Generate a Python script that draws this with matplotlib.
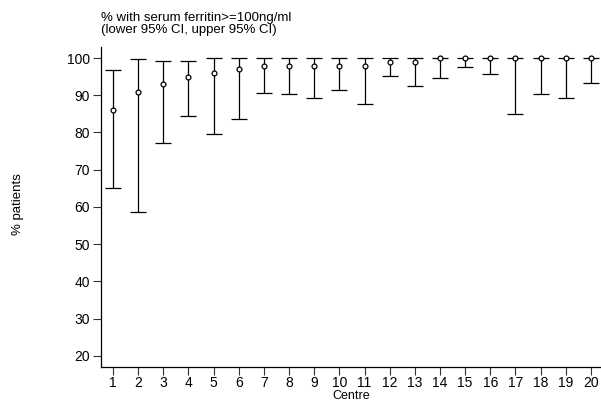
import matplotlib
matplotlib.use("Agg")
import matplotlib.pyplot as plt
import numpy as np

plt.rcParams['font.family'] = ['Liberation Sans', 'DejaVu Sans']

centres = list(range(1, 21))
pct = [86.0, 91.0, 93.0, 95.0, 96.0, 97.0, 98.0, 98.0, 98.0, 98.0,
       98.0, 99.0, 99.0, 100.0, 100.0, 100.0, 100.0, 100.0, 100.0, 100.0]
lower = [65.0, 58.7, 77.2, 84.4, 79.5, 83.7, 90.5, 90.4, 89.4, 91.4,
         87.7, 95.3, 92.5, 94.6, 97.7, 95.8, 85.1, 90.4, 89.3, 93.2]
upper = [96.9, 99.8, 99.2, 99.3, 100.0, 100.0, 100.0, 100.0, 100.0, 100.0,
         100.0, 100.0, 100.0, 100.0, 100.0, 100.0, 100.0, 100.0, 100.0, 100.0]

pct = np.array(pct)
err = np.array([pct - np.array(lower), np.array(upper) - pct])

fig = plt.figure(figsize=(6.01, 4.01), dpi=100)
ax = fig.add_axes([0.168, 0.085, 0.834, 0.798])

ax.errorbar(centres, pct, yerr=err, fmt='o', color='black', ecolor='black',
            elinewidth=0.9, capsize=5.5, capthick=0.9, markersize=3.5,
            markerfacecolor='white', markeredgewidth=0.9)

ax.set_xlim(0.52, 20.45)
ax.set_ylim(17.0, 103.0)
ax.set_xticks(centres)
ax.set_yticks(np.arange(20, 101, 10))
ax.tick_params(direction='out', length=5.5, width=0.8, labelsize=10, pad=2.5,
               color='#333333')
ax.tick_params(axis='x', pad=1.2)
ax.spines['top'].set_visible(False)
ax.spines['right'].set_visible(False)
ax.spines['left'].set_linewidth(0.9)
ax.spines['bottom'].set_linewidth(0.9)

fig.text(0.584, 0.004, 'Centre', fontsize=9, ha='center', va='baseline')
fig.text(0.030, 0.49, '% patients', rotation=90, fontsize=9.5,
         ha='center', va='center')
fig.text(0.168, 0.970, '% with serum ferritin>=100ng/ml\n(lower 95% CI, upper 95% CI)',
         fontsize=9.5, ha='left', va='top', linespacing=1.0)

fig.savefig('out.png', dpi=100)
